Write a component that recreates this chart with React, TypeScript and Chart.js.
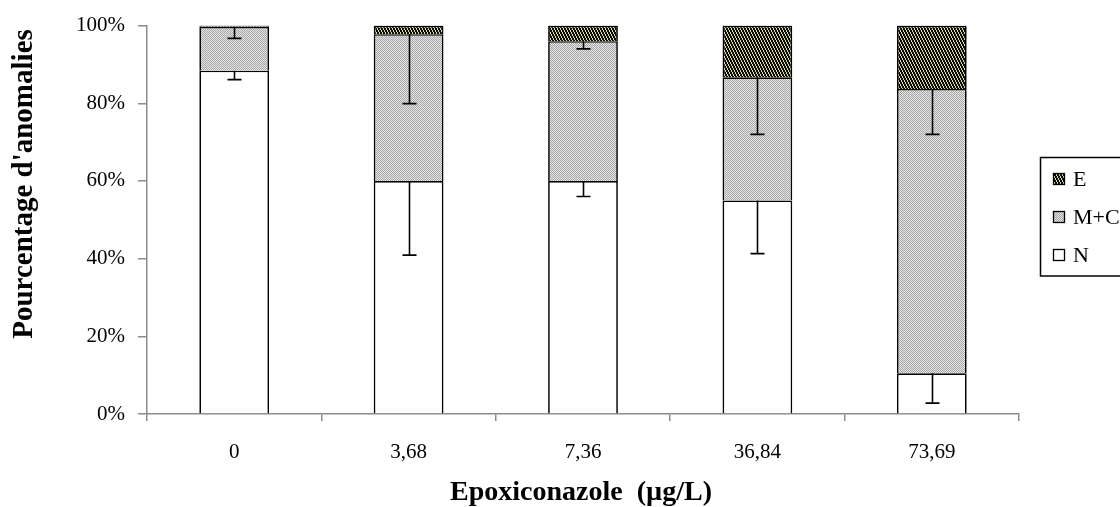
import React, { useEffect, useRef } from "react";
import { Chart, registerables } from "chart.js";

Chart.register(...registerables);

const categories = ["0", "3,68", "7,36", "36,84", "73,69"];
const seriesN = [88.4, 60, 60, 55, 10.5];
const seriesMC = [11.3, 37.8, 36, 31.7, 73.2];
const seriesE = [0.3, 2.2, 4, 13.3, 16.3];
const errN = [2.3, 19.1, 4, 13.7, 7.7];
const errMC = [3, 17.9, 2, 14.7, 11.7];
const legendLabels = ["E", "M+C", "N"];
const xTitle = "Epoxiconazole  (µg/L)";
const yTitle = "Pourcentage d'anomalies";

const FONT = "'Liberation Serif', 'Times New Roman', serif";

function makeMCPattern(ctx: CanvasRenderingContext2D) {
  const c = document.createElement("canvas");
  c.width = 4;
  c.height = 4;
  const g = c.getContext("2d")!;
  for (let y = 0; y < 4; y++) {
    for (let x = 0; x < 4; x++) {
      g.fillStyle = (x + y) % 2 === 0 ? "#a8a8a8" : "#e4e4e4";
      g.fillRect(x, y, 1, 1);
    }
  }
  return ctx.createPattern(c, "repeat")!;
}

function makeEPattern(ctx: CanvasRenderingContext2D) {
  const c = document.createElement("canvas");
  c.width = 3;
  c.height = 6;
  const g = c.getContext("2d")!;
  g.fillStyle = "#0c0c0c";
  g.fillRect(0, 0, 3, 6);
  g.fillStyle = "#dcdc9c";
  for (let y = 0; y < 6; y++) {
    const s = Math.floor(y / 2) % 3;
    g.fillRect(s, y, 1, 1);
  }
  return ctx.createPattern(c, "repeat")!;
}

export default function App() {
  const ref = useRef<HTMLCanvasElement | null>(null);

  useEffect(() => {
    document.body.style.margin = "0";
    const canvas = ref.current!;
    const ctx = canvas.getContext("2d")!;
    const patMC = makeMCPattern(ctx);
    const patE = makeEPattern(ctx);

    const errors: (number[] | null)[] = [errN, errMC, null];

    const errorBars = {
      id: "errorBars",
      afterDatasetsDraw(chart: any) {
        const c = chart.ctx;
        const yScale = chart.scales.y;
        c.save();
        c.strokeStyle = "#000";
        c.lineWidth = 1.6;
        chart.data.datasets.forEach((ds: any, di: number) => {
          const err = errors[di];
          if (!err) return;
          const meta = chart.getDatasetMeta(di);
          meta.data.forEach((el: any, i: number) => {
            let top = 0;
            for (let k = 0; k <= di; k++) top += chart.data.datasets[k].data[i];
            const yTop = yScale.getPixelForValue(top);
            const yLow = yScale.getPixelForValue(top - err[i]);
            const x = Math.round(el.x) + 0.5;
            c.beginPath();
            c.moveTo(x, yTop);
            c.lineTo(x, yLow);
            c.moveTo(x - 7, yLow);
            c.lineTo(x + 7, yLow);
            c.stroke();
          });
        });
        c.restore();
      },
    };

    const extras = {
      id: "extras",
      afterDraw(chart: any) {
        const c = chart.ctx;
        c.save();
        // axis titles
        c.fillStyle = "#000";
        c.textAlign = "center";
        c.textBaseline = "middle";
        c.font = `bold 28px ${FONT}`;
        c.fillText(xTitle, 581, 493);
        c.save();
        c.translate(25, 184);
        c.rotate(-Math.PI / 2);
        c.font = `bold 29px ${FONT}`;
        c.fillText(yTitle, 0, 0);
        c.restore();
        // legend
        c.strokeStyle = "#000";
        c.lineWidth = 1.5;
        c.strokeRect(1040.5, 157.5, 120, 118.5);
        const fills = [patE, patMC, "#ffffff"];
        const centers = [179, 217, 255];
        c.font = `22px ${FONT}`;
        c.textAlign = "left";
        c.textBaseline = "middle";
        legendLabels.forEach((lab, i) => {
          const cy = centers[i];
          c.fillStyle = fills[i] as any;
          c.fillRect(1053, cy - 6, 12, 12);
          c.lineWidth = 1.3;
          c.strokeRect(1053.5, cy - 5.5, 11, 11);
          c.fillStyle = "#000";
          c.fillText(lab, 1073, cy + 1);
        });
        c.restore();
      },
    };

    const barCommon = {
      borderColor: "#000000",
      borderWidth: 1.7,
      barPercentage: 0.4,
      categoryPercentage: 1,
    };

    const chart = new Chart(canvas, {
      type: "bar",
      data: {
        labels: categories,
        datasets: [
          { label: "N", data: seriesN, backgroundColor: "#ffffff", ...barCommon },
          { label: "M+C", data: seriesMC, backgroundColor: patMC as any, ...barCommon },
          { label: "E", data: seriesE, backgroundColor: patE as any, ...barCommon },
        ],
      },
      options: {
        responsive: false,
        animation: false,
        layout: { padding: { left: 0, right: 101, top: 23, bottom: 0 } },
        plugins: { legend: { display: false }, tooltip: { enabled: false } },
        scales: {
          x: {
            stacked: true,
            grid: {
              offset: true,
              drawOnChartArea: false,
              tickLength: 7,
              color: "#8c8c8c",
              lineWidth: 1.5,
            },
            border: { color: "#8c8c8c", width: 1.5 },
            ticks: { color: "#000", font: { family: FONT, size: 21 }, padding: 19 },
            afterFit: (s: any) => {
              s.height = 93;
            },
          },
          y: {
            stacked: true,
            min: 0,
            max: 100,
            grid: {
              drawOnChartArea: false,
              tickLength: 9,
              color: "#8c8c8c",
              lineWidth: 1.5,
            },
            border: { color: "#8c8c8c", width: 1.5 },
            ticks: {
              stepSize: 20,
              color: "#000",
              font: { family: FONT, size: 21 },
              padding: 13,
              callback: (v: any) => `${v}%`,
            },
            afterFit: (s: any) => {
              s.width = 147;
            },
          },
        },
      },
      plugins: [errorBars, extras],
    } as any);

    return () => chart.destroy();
  }, []);

  return (
    <div style={{ width: 1120, height: 507 }}>
      <canvas ref={ref} width={1120} height={507} style={{ display: "block" }} />
    </div>
  );
}
